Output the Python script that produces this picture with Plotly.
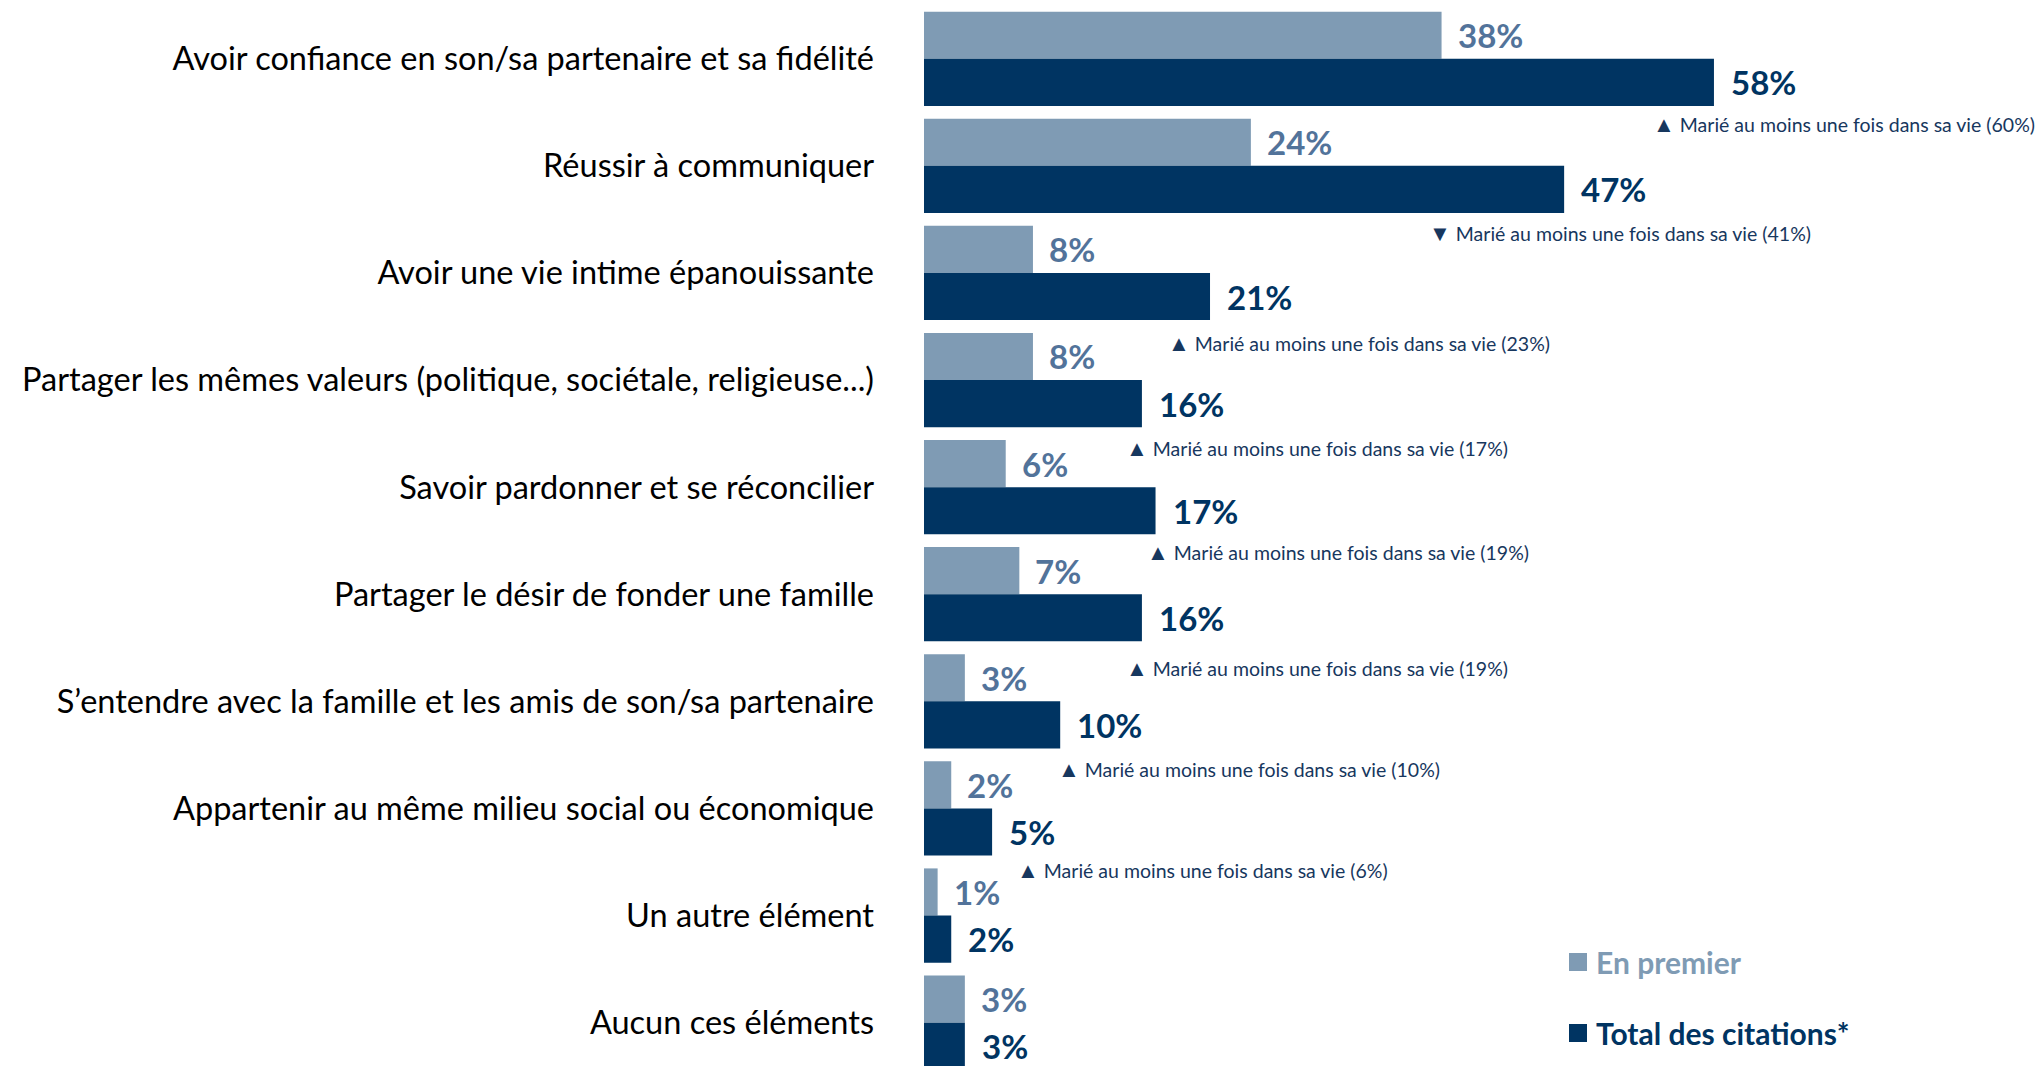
import plotly.graph_objects as go

# ---- data ----
categories = [
    "Avoir confiance en son/sa partenaire et sa fidélité",
    "Réussir à communiquer",
    "Avoir une vie intime épanouissante",
    "Partager les mêmes valeurs (politique, sociétale, religieuse...)",
    "Savoir pardonner et se réconcilier",
    "Partager le désir de fonder une famille",
    "S’entendre avec la famille et les amis de son/sa partenaire",
    "Appartenir au même milieu social ou économique",
    "Un autre élément",
    "Aucun ces éléments",
]
en_premier = [38, 24, 8, 8, 6, 7, 3, 2, 1, 3]
total_citations = [58, 47, 21, 16, 17, 16, 10, 5, 2, 3]
series_names = ["En premier", "Total des citations*"]

# sub-group notes (category index, direction, value)
note_cat = [0, 1, 2, 3, 4, 5, 6, 7]
note_dir = ["up", "down", "up", "up", "up", "up", "up", "up"]
note_val = [60, 41, 23, 17, 19, 19, 10, 6]
note_label = "Marié au moins une fois dans sa vie"

# ---- layout constants (positions / styles) ----
note_x = [53.4, 36.9, 17.8, 14.7, 16.2, 14.7, 9.7, 6.7]      # x (in %) of note start
note_dy = [0.60, 0.62, 0.65, 0.63, 0.60, 0.68, 0.63, 0.57]   # vertical offset from category centre

LIGHT = "#7f9bb4"
LIGHT_TXT = "#52739a"
DARK = "#003462"
NOTE_COL = "#17375e"
FONT = "Lato"
BAR_H = 0.44

# page has an 8px body margin: figure is drawn 8px right/down of page origin
FIG_W, FIG_H = 2035, 1058
PLOT_LEFT_PAGE = 924
PLOT_W = 1119
PX_PER_PCT = 13.62

fig = go.Figure()
fig.add_trace(go.Bar(
    y=categories, x=en_premier, orientation="h", name=series_names[0],
    marker=dict(color=LIGHT, line=dict(width=0)), width=BAR_H, offset=-BAR_H,
    showlegend=False, hoverinfo="x+y",
))
fig.add_trace(go.Bar(
    y=categories, x=total_citations, orientation="h", name=series_names[1],
    marker=dict(color=DARK, line=dict(width=0)), width=BAR_H, offset=0,
    showlegend=False, hoverinfo="x+y",
))

annotations = []
for i, (a, b) in enumerate(zip(en_premier, total_citations)):
    annotations.append(dict(
        x=a, y=i - BAR_H / 2, xref="x", yref="y", text=f"<b>{a}%</b>",
        showarrow=False, xanchor="left", yanchor="middle", xshift=14,
        font=dict(family=FONT, size=33, color=LIGHT_TXT),
    ))
    annotations.append(dict(
        x=b, y=i + BAR_H / 2, xref="x", yref="y", text=f"<b>{b}%</b>",
        showarrow=False, xanchor="left", yanchor="middle", xshift=15,
        font=dict(family=FONT, size=33, color=DARK),
    ))

for c, d, v, nx, dy in zip(note_cat, note_dir, note_val, note_x, note_dy):
    sym = "▲" if d == "up" else "▼"
    annotations.append(dict(
        x=nx, y=c + dy, xref="x", yref="y",
        text=f"<span style='font-size:22px'>{sym}</span> {note_label} ({v}%)",
        showarrow=False, xanchor="left", yanchor="middle",
        font=dict(family=FONT, size=19.5, color=NOTE_COL),
    ))

# legend (custom)
legend_cols = [LIGHT, DARK]
legend_txt_cols = [LIGHT, DARK]
legend_y = [962, 1033]
shapes = []
for name, col, tcol, ly in zip(series_names, legend_cols, legend_txt_cols, legend_y):
    shapes.append(dict(
        type="rect", xref="paper", yref="paper",
        x0=(1569 - PLOT_LEFT_PAGE) / PLOT_W, x1=(1587 - PLOT_LEFT_PAGE) / PLOT_W,
        y0=(1066 - ly - 9) / FIG_H, y1=(1066 - ly + 9) / FIG_H,
        fillcolor=col, line=dict(width=0),
    ))
    annotations.append(dict(
        x=(1594 - PLOT_LEFT_PAGE) / PLOT_W, y=(1066 - ly) / FIG_H, xref="paper", yref="paper",
        text=f"<b>{name}</b>", showarrow=False, xanchor="left", yanchor="middle",
        font=dict(family=FONT, size=30, color=tcol),
    ))

fig.update_layout(
    width=FIG_W, height=FIG_H,
    margin=dict(l=PLOT_LEFT_PAGE - 8, r=0, t=0, b=0, pad=0),
    plot_bgcolor="white", paper_bgcolor="white",
    barmode="overlay",
    showlegend=False,
    xaxis=dict(range=[0, PLOT_W / PX_PER_PCT], visible=False, fixedrange=True),
    yaxis=dict(
        type="category", range=[9.405, -0.474], showgrid=False, zeroline=False,
        showline=False, ticks="", ticklabelstandoff=49,
        tickfont=dict(family=FONT, size=32.5, color="#000000"),
    ),
    annotations=annotations,
    shapes=shapes,
    font=dict(family=FONT),
)

fig.write_html("out.html")
